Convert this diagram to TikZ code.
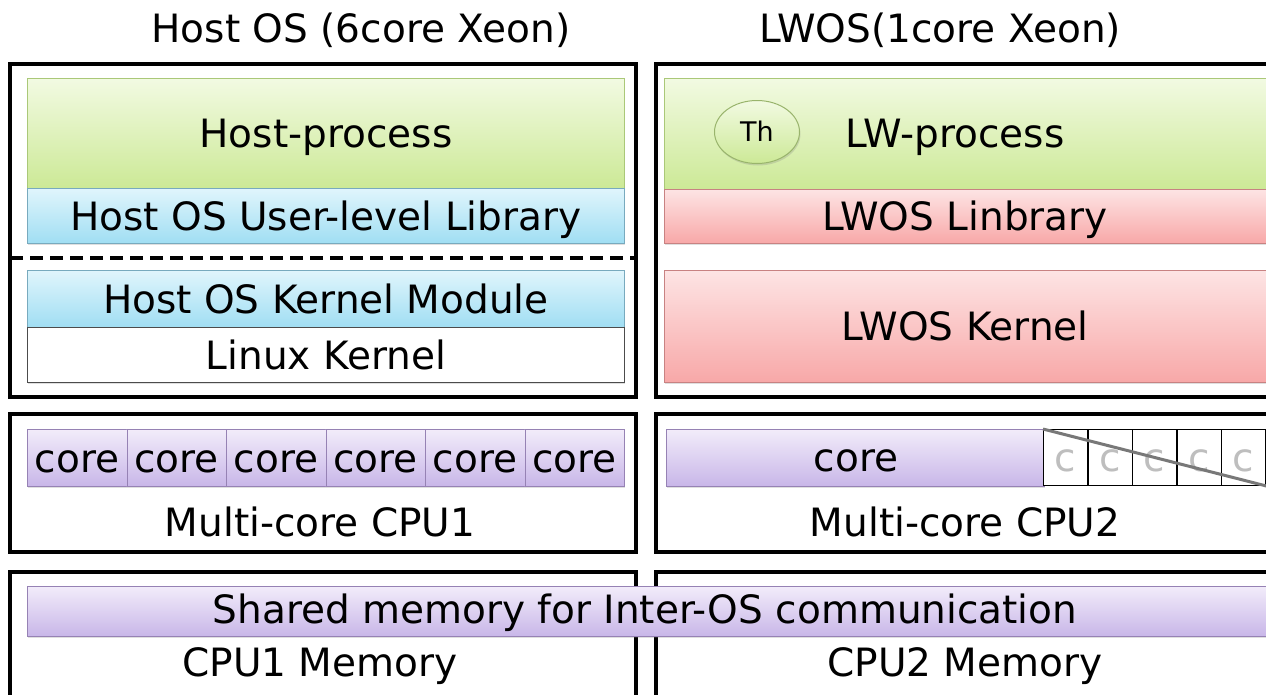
\documentclass[tikz,border=0pt]{standalone}
\usepackage{fontspec}
\setmainfont{DejaVu Sans}
\usetikzlibrary{shadows,shapes.geometric}
\definecolor{grnT}{RGB}{242,250,226}
\definecolor{grnB}{RGB}{204,233,150}
\definecolor{grnL}{RGB}{170,200,120}
\definecolor{bluT}{RGB}{224,245,252}
\definecolor{bluB}{RGB}{160,222,243}
\definecolor{bluL}{RGB}{120,170,190}
\definecolor{redT}{RGB}{253,228,228}
\definecolor{redB}{RGB}{248,168,168}
\definecolor{redL}{RGB}{200,130,130}
\definecolor{purT}{RGB}{242,236,250}
\definecolor{purB}{RGB}{200,182,232}
\definecolor{purL}{RGB}{150,130,180}
\definecolor{cross}{RGB}{120,120,120}
\definecolor{ghost}{RGB}{190,190,190}
\tikzset{
  bigfont/.style={font=\fontsize{39}{41}\selectfont, text height=28.5pt, text depth=0pt},
  lbl/.style={bigfont, inner sep=0pt},
  layer/.style={rectangle, anchor=north west, inner sep=0pt, line width=0.8pt, bigfont,
    drop shadow={opacity=0.25, shadow xshift=1pt, shadow yshift=-2pt}},
  grnbox/.style={layer, draw=grnL, top color=grnT, bottom color=grnB},
  blubox/.style={layer, draw=bluL, top color=bluT, bottom color=bluB},
  redbox/.style={layer, draw=redL, top color=redT, bottom color=redB},
  purbox/.style={layer, draw=purL, top color=purT, bottom color=purB},
  whtbox/.style={layer, draw=black!70, fill=white},
  frame/.style={draw=black, line width=4pt},
  corecell/.style={purbox, minimum width=99.5pt, minimum height=57pt},
  ccell/.style={rectangle, anchor=north west, draw=black, line width=1pt, fill=white,
    minimum width=44.4pt, minimum height=56pt, inner sep=0pt, bigfont, text=ghost},
}
\begin{document}
\begin{tikzpicture}[x=1pt, y=-1pt]
\useasboundingbox (0,0) rectangle (1266,694);
\clip (0,0) rectangle (1266,694);

% column titles
\node[lbl] (t1) at (361,28) {Host OS (6core Xeon)};
\node[lbl] (t2) at (940,28) {LWOS(1core Xeon)};

% outer frames
\draw[frame] (10,64) rectangle (636,397);
\draw[frame] (656,64) rectangle (1290,397);
\draw[frame] (10,414) rectangle (636,552);
\draw[frame] (656,414) rectangle (1290,552);
\draw[frame] (10,572) rectangle (636,720);
\draw[frame] (656,572) rectangle (1290,720);

% host OS software stack
\node[grnbox, minimum width=597pt, minimum height=110pt] (hp) at (27,78) {Host-process};
\node[blubox, minimum width=597pt, minimum height=55pt] (hlib) at (27,188) {Host OS User-level Library};
\draw[line width=3.5pt, dash pattern=on 13pt off 7pt] (10,258) -- (636,258);
\node[blubox, minimum width=597pt, minimum height=57pt] (hkm) at (27,270) {Host OS Kernel Module};
\node[whtbox, minimum width=597pt, minimum height=55pt] (lk) at (27,327) {Linux Kernel};

% LWOS software stack
\node[grnbox, minimum width=620pt, minimum height=111pt] (lwp) at (664,78) {};
\node[lbl] (lwpt) at (955,133) {LW-process};
\node[ellipse, draw=grnL!90!black, line width=1pt, top color=grnT, bottom color=grnB,
  minimum width=85pt, minimum height=63pt, inner sep=0pt,
  font=\fontsize{27}{29}\selectfont, text height=19.5pt, text depth=0pt,
  drop shadow={opacity=0.25, shadow xshift=1pt, shadow yshift=-2pt}] (th) at (757,132) {Th};
\node[redbox, minimum width=620pt, minimum height=54pt] (llib) at (664,189) {};
\node[lbl] (llibt) at (965,216) {LWOS Linbrary};
\node[redbox, minimum width=620pt, minimum height=112pt] (lk2) at (664,270) {};
\node[lbl] (lk2t) at (965,326) {LWOS Kernel};

% CPU1 cores
\foreach \i in {0,...,5}{
  \node[corecell] (c\i) at (27+99.5*\i,429) {core};
}
\node[lbl] (cpu1) at (320,522) {Multi-core CPU1};

% CPU2: one active core, the rest disabled
\node[purbox, minimum width=378pt, minimum height=57pt] (lcore) at (666,429) {};
\node[lbl] (lcoret) at (856,457) {core};
\foreach \i/\x in {0/1043,1/1088,2/1132,3/1177,4/1221}{
  \node[ccell] (d\i) at (\x,429) {c};
}
\draw[cross, line width=3pt] (d0.north west) -- (d4.south east);
\node[lbl] (cpu2) at (965,522) {Multi-core CPU2};

% memory
\node[purbox, minimum width=1250pt, minimum height=50pt] (shm) at (27,586) {};
\node[lbl] (shmt) at (645,609) {Shared memory for Inter-OS communication};
\node[lbl] (m1) at (320,662) {CPU1 Memory};
\node[lbl] (m2) at (965,662) {CPU2 Memory};
\end{tikzpicture}
\end{document}
